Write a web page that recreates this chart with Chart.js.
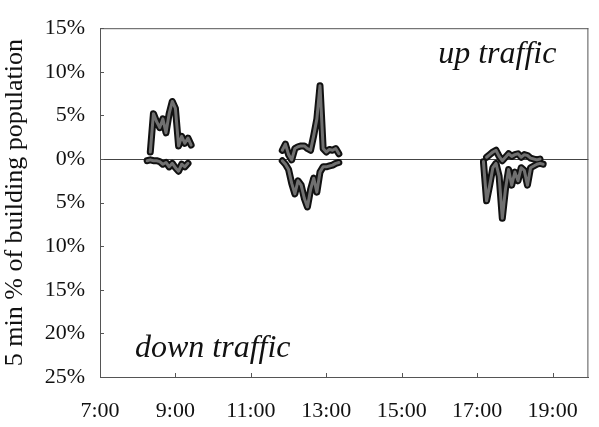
<!DOCTYPE html>
<html>
<head>
<meta charset="utf-8">
<script src="https://cdn.jsdelivr.net/npm/chart.js@4.4.1/dist/chart.umd.min.js"></script>
<style>
  html, body { margin: 0; padding: 0; background: #fff; }
  #wrap { width: 599px; height: 427px; position: relative; }
</style>
</head>
<body>
<div id="wrap"><canvas id="c" width="599" height="427"></canvas></div>
<script>
// Lift traffic per 5 minutes, as % of the building population.
// Up traffic is positive, down traffic negative.

const morningTimes = ["8:15","8:20","8:25","8:30","8:35","8:40","8:45","8:50","8:55","9:00","9:05","9:10","9:15","9:20","9:25"];
const upMorning    = [null, 0.8, 5.2, 4.3, 3.6, 4.6, 3.0, 5.2, 6.6, 5.8, 1.5, 2.6, 1.8, 2.4, 1.6];
const downMorning  = [-0.2, -0.1, -0.2, -0.2, -0.3, -0.6, -0.4, -0.9, -0.5, -1.0, -1.4, -0.6, -0.9, -0.5, null];

const middayTimes = ["11:50","11:55","12:00","12:05","12:10","12:15","12:20","12:25","12:30","12:35","12:40","12:45","12:50","12:55","13:00","13:05","13:10","13:15","13:20"];
const upMidday    = [1.0, 1.7, 0.5, -0.1, 1.2, 1.4, 1.5, 1.5, 1.2, 1.0, 2.7, 4.6, 8.4, 1.2, 0.8, 1.1, 1.0, 1.2, 0.6];
const downMidday  = [-0.2, -0.6, -1.2, -2.8, -4.0, -2.5, -3.0, -4.5, -5.5, -3.5, -2.2, -3.8, -1.5, -0.9, -0.9, -0.8, -0.7, -0.5, -0.4];

const eveningTimes = ["17:10","17:15","17:20","17:25","17:30","17:35","17:40","17:45","17:50","17:55","18:00","18:05","18:10","18:15","18:20","18:25","18:30","18:35","18:40","18:45"];
const upEvening    = [null, 0.2, 0.5, 0.8, 1.0, 0.3, -0.2, 0.2, 0.6, 0.3, 0.5, 0.6, 0.2, 0.5, 0.4, 0.1, 0.0, -0.1, 0.0, null];
const downEvening  = [-0.3, -4.8, -3.0, -1.0, -0.5, -2.0, -6.8, -3.5, -1.2, -3.0, -1.5, -2.5, -1.0, -1.3, -3.0, -1.0, -0.8, -0.6, -0.5, -0.6];

const xTickHours = [7, 9, 11, 13, 15, 17, 19];
const yTickValues = [15, 10, 5, 0, -5, -10, -15, -20, -25];

function hours(t) {
  const [h, m] = t.split(":").map(Number);
  return h + m / 60;
}

// Join the three periods into one series, with a break between them.
function series(parts) {
  const out = [];
  parts.forEach(([times, vals], i) => {
    if (i > 0) out.push({ x: hours(times[0]) - 0.5, y: null });
    times.forEach((t, j) => { if (vals[j] !== null) out.push({ x: hours(t), y: vals[j] }); });
  });
  return out;
}

const upData = series([[morningTimes, upMorning], [middayTimes, upMidday], [eveningTimes, upEvening]]);
const downData = series([[morningTimes, downMorning], [middayTimes, downMidday], [eveningTimes, downEvening]]);

const SERIF = "'Liberation Serif', 'DejaVu Serif', serif";

function lineSet(data, color, width, order) {
  return {
    data, borderColor: color, borderWidth: width, order,
    pointRadius: 0, tension: 0, spanGaps: false,
    borderJoinStyle: 'round', borderCapStyle: 'round', fill: false
  };
}

// Frame on the top and right, inward tick marks, and the two captions.
const decorations = {
  id: 'decorations',
  afterDraw(chart) {
    const { ctx, chartArea: a, scales } = chart;
    ctx.save();
    ctx.strokeStyle = '#555';
    ctx.lineWidth = 1;
    ctx.beginPath();
    ctx.moveTo(a.left, a.top + 0.5); ctx.lineTo(a.right, a.top + 0.5);
    ctx.moveTo(a.right - 0.5, a.top); ctx.lineTo(a.right - 0.5, a.bottom);
    scales.y.ticks.forEach(t => {
      const y = Math.round(scales.y.getPixelForValue(t.value)) + 0.5;
      ctx.moveTo(a.left, y); ctx.lineTo(a.left + 4, y);
    });
    scales.x.ticks.forEach(t => {
      const x = Math.round(scales.x.getPixelForValue(t.value)) + 0.5;
      ctx.moveTo(x, a.bottom); ctx.lineTo(x, a.bottom - 4);
    });
    ctx.stroke();

    ctx.fillStyle = '#111';
    ctx.font = "italic 32px " + SERIF;
    ctx.textBaseline = 'alphabetic';
    ctx.textAlign = 'right';
    ctx.fillText('up traffic', a.right - 32, a.top + 35);
    ctx.textAlign = 'left';
    ctx.fillText('down traffic', a.left + 35, a.bottom - 20);
    ctx.restore();
  }
};

new Chart(document.getElementById('c'), {
  type: 'line',
  data: {
    datasets: [
      lineSet(upData, '#707070', 3, 0),
      lineSet(downData, '#707070', 3, 0),
      lineSet(upData, '#111', 7, 1),
      lineSet(downData, '#111', 7, 1)
    ]
  },
  options: {
    responsive: false,
    animation: false,
    layout: { padding: { top: 28, right: 5, left: 0, bottom: 0 } },
    plugins: { legend: { display: false }, tooltip: { enabled: false } },
    scales: {
      x: {
        type: 'linear',
        min: 7, max: 19.95,
        afterBuildTicks(scale) { scale.ticks = xTickHours.map(v => ({ value: v })); },
        afterFit(scale) { scale.height = 50; },
        grid: { display: false, drawTicks: false },
        border: { display: true, color: '#555', width: 1 },
        ticks: {
          padding: 21, color: '#111',
          font: { family: SERIF, size: 22 },
          maxRotation: 0, autoSkip: false,
          callback: v => v + ':00'
        }
      },
      y: {
        min: -25, max: 15,
        afterBuildTicks(scale) { scale.ticks = yTickValues.map(v => ({ value: v })); },
        afterFit(scale) { scale.width = 100; },
        grid: {
          drawTicks: false,
          color: c => (c.tick && c.tick.value === 0 ? '#444' : 'rgba(0,0,0,0)'),
          lineWidth: 1
        },
        border: { display: true, color: '#555', width: 1 },
        ticks: {
          padding: 15, color: '#111',
          font: { family: SERIF, size: 22 },
          callback: v => Math.abs(v) + '%'
        },
        title: {
          display: true,
          text: '5 min % of building population',
          color: '#111',
          font: { family: SERIF, size: 26 },
          padding: { top: 0, bottom: 0 }
        }
      }
    }
  },
  plugins: [decorations]
});
</script>
</body>
</html>
